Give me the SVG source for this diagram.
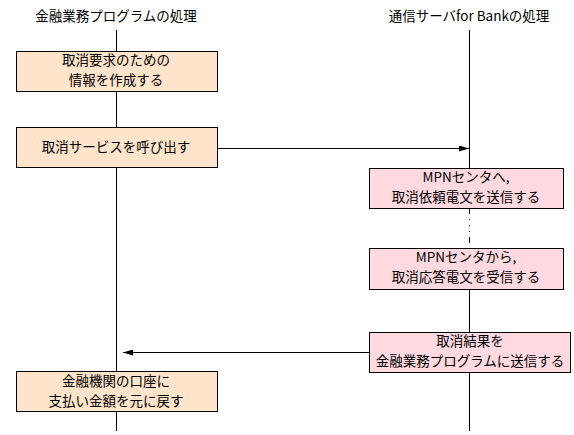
<svg xmlns="http://www.w3.org/2000/svg" width="574" height="435" viewBox="0 0 574 435">
<defs>
<style>
text{font-family:"Noto Sans CJK JP","Noto Sans",sans-serif;font-size:13.5px;fill:#000;text-anchor:middle}
.peach{fill:#FFE4CC;stroke:#000;stroke-width:1}
.pink{fill:#FFD9E0;stroke:#000;stroke-width:1}
.life{stroke:#000;stroke-width:1;fill:none}
</style>
<marker id="ah" viewBox="0 0 10 6" refX="10" refY="3" markerWidth="10" markerHeight="6" markerUnits="userSpaceOnUse" orient="auto">
<path d="M0,0 L10,3 L0,6 Z" fill="#000"/>
</marker>
</defs>
<rect width="574" height="435" fill="#fff"/>
<g id="titles">
<text x="116" y="21">金融業務プログラムの処理</text>
<text x="469" y="21">通信サーバfor Bankの処理</text>
</g>
<g id="connectors">
<line class="life" x1="116.5" y1="30" x2="116.5" y2="431"/>
<line class="life" x1="469.5" y1="30" x2="469.5" y2="168"/>
<line class="life" x1="469.5" y1="208" x2="469.5" y2="248" stroke-dasharray="6,5,1,5,1,5,1,5"/>
<line class="life" x1="469.5" y1="289" x2="469.5" y2="431"/>
<line class="life" x1="217" y1="148.5" x2="469" y2="148.5" marker-end="url(#ah)"/>
<line class="life" x1="369" y1="352.5" x2="123" y2="352.5" marker-end="url(#ah)"/>
</g>
<g id="n1">
<rect class="peach" x="16.5" y="51.5" width="201" height="40"/>
<text x="116" y="65">取消要求のための</text>
<text x="116" y="85">情報を作成する</text>
</g>
<g id="n2">
<rect class="peach" x="16.5" y="127.5" width="201" height="40"/>
<text x="116" y="152">取消サービスを呼び出す</text>
</g>
<g id="n3">
<rect class="pink" x="369.5" y="168.5" width="194" height="40"/>
<text x="466" y="182">MPNセンタへ,</text>
<text x="466" y="202">取消依頼電文を送信する</text>
</g>
<g id="n4">
<rect class="pink" x="369.5" y="248.5" width="194" height="41"/>
<text x="466" y="262">MPNセンタから,</text>
<text x="466" y="282">取消応答電文を受信する</text>
</g>
<g id="n5">
<rect class="pink" x="369.5" y="332.5" width="201" height="40"/>
<text x="470" y="346">取消結果を</text>
<text x="470" y="366">金融業務プログラムに送信する</text>
</g>
<g id="n6">
<rect class="peach" x="16.5" y="371.5" width="201" height="40"/>
<text x="116" y="386">金融機関の口座に</text>
<text x="116" y="406">支払い金額を元に戻す</text>
</g>
</svg>
